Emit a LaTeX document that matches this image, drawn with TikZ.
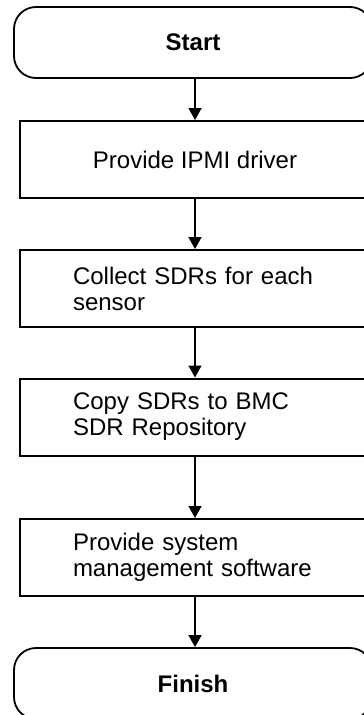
\documentclass[tikz,border=0pt]{standalone}
\usepackage{fontspec}
\setmainfont{Liberation Sans}
\usetikzlibrary{arrows.meta}
\begin{document}
\begin{tikzpicture}[x=1pt,y=-1pt,
  every node/.style={font=\fontsize{24}{26}\selectfont},
  terminal/.style={draw=black, line width=1.8pt, rounded corners=22pt,
    minimum width=358pt, minimum height=71pt, inner sep=0pt, font=\fontsize{24}{26}\selectfont\bfseries},
  procbox/.style={draw=black, line width=2pt, minimum width=350pt, minimum height=77pt, inner sep=0pt},
  leftbox/.style={procbox, align=left, text width=244pt, inner xsep=53pt, inner ysep=0pt},
  flow/.style={line width=1.5pt, -{Triangle[length=12pt,width=13pt]}}
]
\useasboundingbox (0,0) rectangle (364,715);
\clip (0,0) rectangle (364,715);
\fill[white] (0,0) rectangle (364,715);

\node[terminal] (start) at (193,42.5) {Start};
\node[procbox] (ipmi) at (195,159.5) {Provide IPMI driver};
\node[leftbox] (collect) at (195,288.5) {Collect SDRs for each\\sensor};
\node[leftbox] (copy) at (195,417) {Copy SDRs to BMC\\SDR Repository};
\node[leftbox] (sysmgmt) at (195,557.5) {Provide system\\management software};
\node[terminal] (finish) at (193,683.5) {Finish};

\draw[flow] (start.south -| ipmi.north) -- (ipmi.north);
\draw[flow] (ipmi) -- (collect);
\draw[flow] (collect) -- (copy);
\draw[flow] (copy) -- (sysmgmt);
\draw[flow] (sysmgmt.south) -- (finish.north -| sysmgmt.south);
\end{tikzpicture}
\end{document}
